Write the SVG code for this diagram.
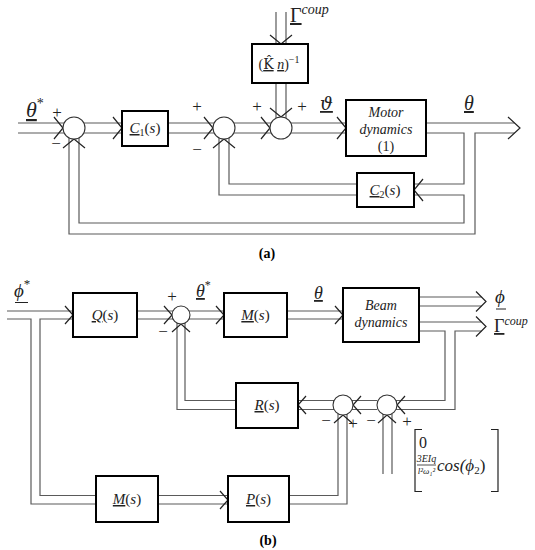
<svg xmlns="http://www.w3.org/2000/svg" width="535" height="550" viewBox="0 0 535 550">
<defs>
<style>
.ln{fill:none;stroke:#5a5a5a;stroke-width:1.2}
.bx{fill:#fff;stroke:#000;stroke-width:2}
.cr{fill:#fff;stroke:#333;stroke-width:1.1}
.ch{fill:none;stroke:#222;stroke-width:1.2}
text{font-family:"Liberation Serif","DejaVu Serif",serif;fill:#222}
.i{font-style:italic}
.u{text-decoration:underline}
.dj{font-family:"DejaVu Serif",serif}
.sg{font-size:17px;text-anchor:middle}
.cap{font-weight:bold;font-size:14px;text-anchor:middle;fill:#000}
</style>
<path id="chA" class="ch" d="M-9,-11 L0,0 L-9,11"/>
<path id="chB" class="ch" d="M-8,-9 L0,0 L-8,9"/>
<path id="chO" class="ch" d="M-12,-11 L0,0 L-12,11"/>
<path id="chP" class="ch" d="M-10,-10 L0,0 L-10,10"/>
</defs>
<rect width="535" height="550" fill="#fff"/>

<!-- ===== (a) connectors ===== -->
<g id="connectors-a">
<path class="ln" d="M18,123 H64.2 M18,133 H64.2"/>
<path class="ln" d="M83.8,123 H122 M83.8,133 H122"/>
<path class="ln" d="M168,123 H214.2 M168,133 H214.2"/>
<path class="ln" d="M233.8,123 H271.2 M233.8,133 H271.2"/>
<path class="ln" d="M290.8,123 H346 M290.8,133 H346"/>
<path class="ln" d="M426,123 H514.5"/>
<path class="ln" d="M426,133 H464 V184 H414"/>
<path class="ln" d="M414,195 H464 V223 H79 V137.8"/>
<path class="ln" d="M514.5,133 H475 V234 H69 V137.8"/>
<path class="ln" d="M357,184 H229 V137.8"/>
<path class="ln" d="M357,195 H219 V137.8"/>
<path class="ln" d="M276,12 V44 M286,12 V44"/>
<path class="ln" d="M276,83 V118.2 M286,83 V118.2"/>
<use href="#chA" x="63" y="128"/>
<use href="#chA" x="122" y="128"/>
<use href="#chA" x="213" y="128"/>
<use href="#chA" x="270" y="128"/>
<use href="#chA" x="346" y="128"/>
<use href="#chO" x="520" y="128"/>
<use href="#chA" transform="translate(74,139) rotate(-90)"/>
<use href="#chA" transform="translate(224,139) rotate(-90)"/>
<use href="#chA" transform="translate(281,117) rotate(90)"/>
<use href="#chA" transform="translate(281,44) rotate(90)"/>
<use href="#chA" transform="translate(414,190) rotate(180)"/>
</g>

<!-- ===== (a) nodes ===== -->
<g id="sum1"><circle class="cr" cx="74" cy="128" r="11"/></g>
<g id="sum2"><circle class="cr" cx="224" cy="128" r="11"/></g>
<g id="sum3"><circle class="cr" cx="281" cy="128" r="11"/></g>
<g id="C1"><rect class="bx" x="122" y="111" width="46" height="35"/>
<text x="145" y="133" font-size="15" text-anchor="middle"><tspan class="i u">C</tspan><tspan font-size="10" dy="3">1</tspan><tspan dy="-3">(</tspan><tspan class="i">s</tspan>)</text></g>
<g id="Kn"><rect class="bx" x="252" y="44" width="56" height="39"/>
<text x="279" y="69" font-size="14" text-anchor="middle">(<tspan class="u dj">K̂</tspan> <tspan class="i u">n</tspan>)<tspan font-size="10" dy="-6">−1</tspan></text></g>
<g id="motor"><rect class="bx" x="346" y="100" width="80" height="56"/>
<text x="386" y="117" font-size="14" text-anchor="middle" class="i">Motor</text>
<text x="386" y="134" font-size="14" text-anchor="middle" class="i">dynamics</text>
<text x="386" y="151" font-size="14" text-anchor="middle">(1)</text></g>
<g id="C2"><rect class="bx" x="357" y="173" width="57" height="34"/>
<text x="385" y="195" font-size="15" text-anchor="middle"><tspan class="i u">C</tspan><tspan font-size="10" dy="3">2</tspan><tspan dy="-3">(</tspan><tspan class="i">s</tspan>)</text></g>

<g id="labels-a">
<text x="26" y="117" font-size="22"><tspan class="i u">θ</tspan><tspan font-size="14" dy="-9">*</tspan></text>
<text class="sg" x="57" y="118">+</text>
<text class="sg" x="56" y="149">−</text>
<text class="sg" x="197" y="112">+</text>
<text class="sg" x="197" y="155">−</text>
<text class="sg" x="257" y="112">+</text>
<text class="sg" x="302" y="112">+</text>
<text x="320" y="110" font-size="18" class="i u dj">ϑ</text>
<text x="464" y="110" font-size="20" class="i u">θ</text>
<text x="290" y="22" font-size="20"><tspan class="u">Γ</tspan><tspan class="i" font-size="14" dy="-8">coup</tspan></text>
<text class="cap" x="267" y="258">(a)</text>
</g>

<!-- ===== (b) connectors ===== -->
<g id="connectors-b">
<path class="ln" d="M7,311 H73"/>
<path class="ln" d="M7,319 H31 V504 H96"/>
<path class="ln" d="M73,319 H40 V495.5 H96"/>
<path class="ln" d="M137,311 H172.9 M137,319 H172.9"/>
<path class="ln" d="M189.1,311 H224 M189.1,319 H224"/>
<path class="ln" d="M287,311 H343 M287,319 H343"/>
<path class="ln" d="M419,297 H481.5 M419,306 H481.5"/>
<path class="ln" d="M419,322 H481.5"/>
<path class="ln" d="M419,331 H445 V400.5 H396"/>
<path class="ln" d="M481.5,331 H455 V409.5 H396"/>
<path class="ln" d="M377.1,400.5 H351.9 M377.1,409.5 H351.9"/>
<path class="ln" d="M334.1,400.5 H298 M334.1,409.5 H298"/>
<path class="ln" d="M236,400.5 H185 V323"/>
<path class="ln" d="M236,409.5 H177 V323"/>
<path class="ln" d="M158,495.5 H228 M158,504 H228"/>
<path class="ln" d="M289,495.5 H338 V413.7"/>
<path class="ln" d="M289,504 H347 V413.7"/>
<path class="ln" d="M383,474 V413.9 M392,474 V413.9"/>
<use href="#chB" x="73" y="315"/>
<use href="#chB" x="172" y="315"/>
<use href="#chB" x="224" y="315"/>
<use href="#chB" x="343" y="315"/>
<use href="#chP" x="486" y="301.5"/>
<use href="#chP" x="486" y="326.5"/>
<use href="#chB" x="228" y="500"/>
<use href="#chB" transform="translate(181,324) rotate(-90)"/>
<use href="#chB" transform="translate(298,405) rotate(180)"/>
<use href="#chB" transform="translate(353,405) rotate(180)"/>
<use href="#chB" transform="translate(397,405) rotate(180)"/>
<use href="#chB" transform="translate(343,415) rotate(-90)"/>
<use href="#chB" transform="translate(387,415) rotate(-90)"/>
</g>

<!-- ===== (b) nodes ===== -->
<g id="Q"><rect class="bx" x="73" y="293" width="64" height="44"/>
<text x="105" y="320" font-size="15" text-anchor="middle"><tspan class="i u">Q</tspan>(<tspan class="i">s</tspan>)</text></g>
<g id="sumb1"><circle class="cr" cx="181" cy="315" r="9"/></g>
<g id="M1"><rect class="bx" x="224" y="293" width="63" height="44"/>
<text x="255.5" y="320" font-size="15" text-anchor="middle"><tspan class="i u">M</tspan>(<tspan class="i">s</tspan>)</text></g>
<g id="beam"><rect class="bx" x="343" y="288" width="76" height="54"/>
<text x="381" y="310" font-size="14" text-anchor="middle" class="i">Beam</text>
<text x="381" y="327" font-size="14" text-anchor="middle" class="i">dynamics</text></g>
<g id="R"><rect class="bx" x="236" y="383" width="62" height="45"/>
<text x="267" y="410" font-size="15" text-anchor="middle"><tspan class="i u">R</tspan>(<tspan class="i">s</tspan>)</text></g>
<g id="sumA"><circle class="cr" cx="343" cy="405" r="10"/></g>
<g id="sumB"><circle class="cr" cx="387" cy="405" r="10"/></g>
<g id="M2"><rect class="bx" x="96" y="476" width="62" height="46"/>
<text x="127" y="504" font-size="15" text-anchor="middle"><tspan class="i u">M</tspan>(<tspan class="i">s</tspan>)</text></g>
<g id="P"><rect class="bx" x="228" y="476" width="61" height="46"/>
<text x="258.5" y="504" font-size="15" text-anchor="middle"><tspan class="i u">P</tspan>(<tspan class="i">s</tspan>)</text></g>

<g id="matrix">
<path fill="none" stroke="#222" stroke-width="1.2" d="M422,429.5 H415 V491.5 H422 M491,429.5 H498 V491.5 H491"/>
<text x="419" y="448" font-size="16">0</text>
<text x="426.5" y="462" font-size="10" class="i" text-anchor="middle">3EIq</text>
<line x1="417" y1="465" x2="436" y2="465" stroke="#222" stroke-width="0.8"/>
<text x="426.5" y="474" font-size="9" class="i" text-anchor="middle">l²ω₁²</text>
<text x="437" y="471" font-size="17" class="i">cos(ϕ<tspan font-size="11" dy="3" font-style="normal">2</tspan><tspan dy="-3" font-style="normal">)</tspan></text>
</g>

<g id="labels-b">
<text x="14" y="297" font-size="19"><tspan class="i">ϕ</tspan><tspan font-size="13" dy="-9">*</tspan></text>
<line x1="15" y1="302.5" x2="28" y2="302.5" stroke="#222" stroke-width="1"/>
<text class="sg" x="172" y="302" font-size="15">+</text>
<text class="sg" x="163" y="337" font-size="15">−</text>
<text x="196" y="297" font-size="18"><tspan class="i u">θ</tspan><tspan font-size="12" dy="-8">*</tspan></text>
<text x="314" y="299" font-size="18" class="i u">θ</text>
<text x="495" y="303" font-size="19" class="i">ϕ</text>
<line x1="496" y1="309" x2="506" y2="309" stroke="#222" stroke-width="1"/>
<text x="494" y="332" font-size="18"><tspan class="u">Γ</tspan><tspan class="i" font-size="12" dy="-7">coup</tspan></text>
<text class="sg" x="326" y="426" font-size="15">−</text>
<text class="sg" x="353" y="429" font-size="15">+</text>
<text class="sg" x="371" y="426" font-size="15">−</text>
<text class="sg" x="407" y="427" font-size="15">+</text>
<text class="cap" x="268" y="545">(b)</text>
</g>
</svg>
